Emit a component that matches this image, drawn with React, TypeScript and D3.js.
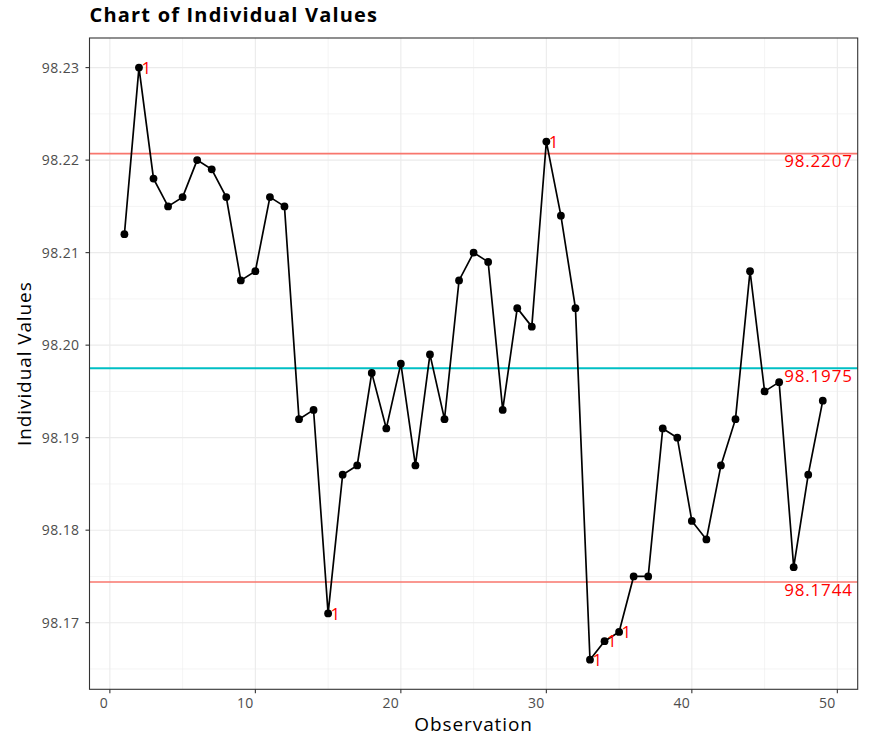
import React from "react";
import * as d3 from "d3";

const observations: number[] = Array.from({ length: 49 }, (_, i) => i + 1);
const values: number[] = [
  98.212, 98.23, 98.218, 98.215, 98.216, 98.22, 98.219, 98.216, 98.207, 98.208,
  98.216, 98.215, 98.192, 98.193, 98.171, 98.186, 98.187, 98.197, 98.191, 98.198,
  98.187, 98.199, 98.192, 98.207, 98.21, 98.209, 98.193, 98.204, 98.202, 98.222,
  98.214, 98.204, 98.166, 98.168, 98.169, 98.175, 98.175, 98.191, 98.19, 98.181,
  98.179, 98.187, 98.192, 98.208, 98.195, 98.196, 98.176, 98.186, 98.194,
];
const UCL = 98.2207;
const CL = 98.1975;
const LCL = 98.1744;
const limitLabels = ["98.2207", "98.1975", "98.1744"];
const xTicks = [0, 10, 20, 30, 40, 50];
const xMinor = [5, 15, 25, 35, 45];
const yTicks = [98.17, 98.18, 98.19, 98.2, 98.21, 98.22, 98.23];
const yMinor = [98.165, 98.175, 98.185, 98.195, 98.205, 98.215, 98.225];

const W = 883;
const H = 744;
const m = { left: 89.5, right: 883 - 857.7, top: 38, bottom: 744 - 689.3 };
const FONT = "'Open Sans', 'Noto Sans', sans-serif";

export default function App() {
  const xMinD = d3.min(observations)!;
  const xMaxD = d3.max(observations)!;
  const xPad = (xMaxD - xMinD) * 0.05;
  const x = d3
    .scaleLinear()
    .domain([xMinD - xPad, xMaxD + xPad])
    .range([m.left, W - m.right]);
  const yMinD = d3.min(values)!;
  const yMaxD = d3.max(values)!;
  const yPad = (yMaxD - yMinD) * 0.05;
  const y = d3
    .scaleLinear()
    .domain([yMinD - yPad, yMaxD + yPad])
    .range([H - m.bottom, m.top]);

  const line = d3
    .line<number>()
    .x((_, i) => x(observations[i]))
    .y((d) => y(d));

  const x0 = m.left;
  const x1 = W - m.right;
  const y0 = m.top;
  const y1 = H - m.bottom;
  const grid = "#EBEBEB";
  const limitColor = "#F8766D";
  const flagged = values
    .map((v, i) => ({ v, i }))
    .filter((d) => d.v > UCL || d.v < LCL);

  return (
    <svg width={W} height={H} style={{ display: "block", position: "absolute", left: 0, top: 0 }} fontFamily={FONT}>
      <rect x={0} y={0} width={W} height={H} fill="#fff" />
      {xMinor.map((t) => (
        <line key={"xm" + t} x1={x(t)} x2={x(t)} y1={y0} y2={y1} stroke={grid} strokeWidth={0.55} />
      ))}
      {yMinor.map((t) => (
        <line key={"ym" + t} x1={x0} x2={x1} y1={y(t)} y2={y(t)} stroke={grid} strokeWidth={0.55} />
      ))}
      {xTicks.map((t) => (
        <line key={"xg" + t} x1={x(t)} x2={x(t)} y1={y0} y2={y1} stroke={grid} strokeWidth={1.1} />
      ))}
      {yTicks.map((t) => (
        <line key={"yg" + t} x1={x0} x2={x1} y1={y(t)} y2={y(t)} stroke={grid} strokeWidth={1.1} />
      ))}
      <line x1={x0} x2={x1} y1={y(UCL)} y2={y(UCL)} stroke={limitColor} strokeWidth={1.7} />
      <line x1={x0} x2={x1} y1={y(LCL)} y2={y(LCL)} stroke={limitColor} strokeWidth={1.7} />
      <line x1={x0} x2={x1} y1={y(CL)} y2={y(CL)} stroke="#00BFC4" strokeWidth={2} />
      <path d={line(values) || ""} fill="none" stroke="#000" strokeWidth={1.7} />
      {values.map((v, i) => (
        <circle key={"p" + i} cx={x(observations[i])} cy={y(v)} r={3.9} fill="#000" />
      ))}
      {flagged.map((d) => (
        <text
          key={"f" + d.i}
          x={x(observations[d.i]) + 2.5}
          y={y(d.v)}
          dy="0.36em"
          fill="#FF0000"
          fontSize={17}
        >
          1
        </text>
      ))}
      {[UCL, CL, LCL].map((v, i) => (
        <text
          key={"ll" + i}
          x={x1 - 5}
          y={y(v) + 1}
          dy="0.75em"
          textAnchor="end"
          fill="#FF0000"
          fontSize={17}
          letterSpacing={0.8}
        >
          {limitLabels[i]}
        </text>
      ))}
      <rect x={x0} y={y0} width={x1 - x0} height={y1 - y0} fill="none" stroke="#333" strokeWidth={1.1} />
      {xTicks.map((t) => (
        <g key={"xt" + t}>
          <line x1={x(t)} x2={x(t)} y1={y1} y2={y1 + 4} stroke="#333" strokeWidth={1.1} />
          <text x={x(t) - 1.6} y={y1 + 6} dy="0.9em" textAnchor="end" fill="#4D4D4D" fontSize={14} letterSpacing={0.4}>
            {t}
          </text>
        </g>
      ))}
      {yTicks.map((t) => (
        <g key={"yt" + t}>
          <line x1={x0 - 4} x2={x0} y1={y(t)} y2={y(t)} stroke="#333" strokeWidth={1.1} />
          <text x={x0 - 10} y={y(t)} dy="0.35em" textAnchor="end" fill="#4D4D4D" fontSize={14} letterSpacing={0.4}>
            {d3.format(".2f")(t)}
          </text>
        </g>
      ))}
      <text x={(x0 + x1) / 2} y={731} textAnchor="middle" fill="#000" fontSize={19} letterSpacing={0.9}>
        Observation
      </text>
      <text
        transform={`translate(31, ${(y0 + y1) / 2}) rotate(-90)`}
        textAnchor="middle"
        fill="#000"
        fontSize={19}
        letterSpacing={0.9}
      >
        Individual Values
      </text>
      <text x={x0} y={22} fill="#000" fontSize={20} fontWeight="bold" letterSpacing={1.2}>
        Chart of Individual Values
      </text>
    </svg>
  );
}
